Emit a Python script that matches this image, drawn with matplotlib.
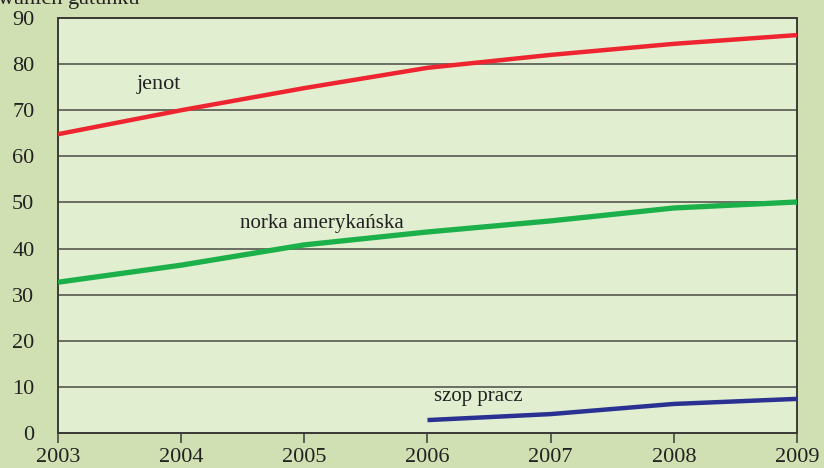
import matplotlib.pyplot as plt

years = [2003, 2004, 2005, 2006, 2007, 2008, 2009]
jenot = [64.8, 70.0, 74.8, 79.2, 82.0, 84.4, 86.3]
norka = [32.7, 36.4, 40.8, 43.6, 46.0, 48.8, 50.1]
szop_years = [2006, 2007, 2008, 2009]
szop = [2.8, 4.1, 6.3, 7.4]

plt.rcParams['font.family'] = ['Liberation Serif', 'DejaVu Serif']

fig = plt.figure(figsize=(8.24, 4.68), dpi=100, facecolor='#d1e0b2')
ax = fig.add_axes([0.0704, 0.0748, 0.8968, 0.8867], facecolor='#e1eecf')

ax.plot(years, jenot, color='#ee2531', lw=3.2, solid_capstyle='butt', zorder=3)
ax.plot(years, norka, color='#1bb04a', lw=3.8, solid_capstyle='butt', zorder=3)
ax.plot(szop_years, szop, color='#2b3192', lw=3.2, solid_capstyle='butt', zorder=3)

ax.text(2003.64, 75.6, 'jenot', fontsize=16, color='#222222', va='center')
ax.text(2004.48, 45.5, 'norka amerykańska', fontsize=15, color='#222222', va='center')
ax.text(2006.05, 8.0, 'szop pracz', fontsize=15, color='#222222', va='center')

ax.set_xlim(2003, 2009)
ax.set_ylim(0, 90)
ax.set_xticks(years)
ax.set_yticks(range(0, 91, 10))
ax.yaxis.grid(True, color='#4a4a44', lw=1.1)
ax.set_axisbelow(True)
for s in ax.spines.values():
    s.set_color('#3a3a36')
    s.set_linewidth(1.4)
ax.tick_params(axis='y', length=0, pad=17, labelsize=16, labelcolor='#222222')
ax.tick_params(axis='x', length=7, width=1.1, color='#3a3a36', pad=3.5, labelsize=16, labelcolor='#222222')

# axis title runs off the top edge of the figure
fig.text(-0.003, 1.022, 'wanich gatunku', fontsize=16, color='#222222', va='top')

fig.savefig('out.png', dpi=100, facecolor=fig.get_facecolor())
